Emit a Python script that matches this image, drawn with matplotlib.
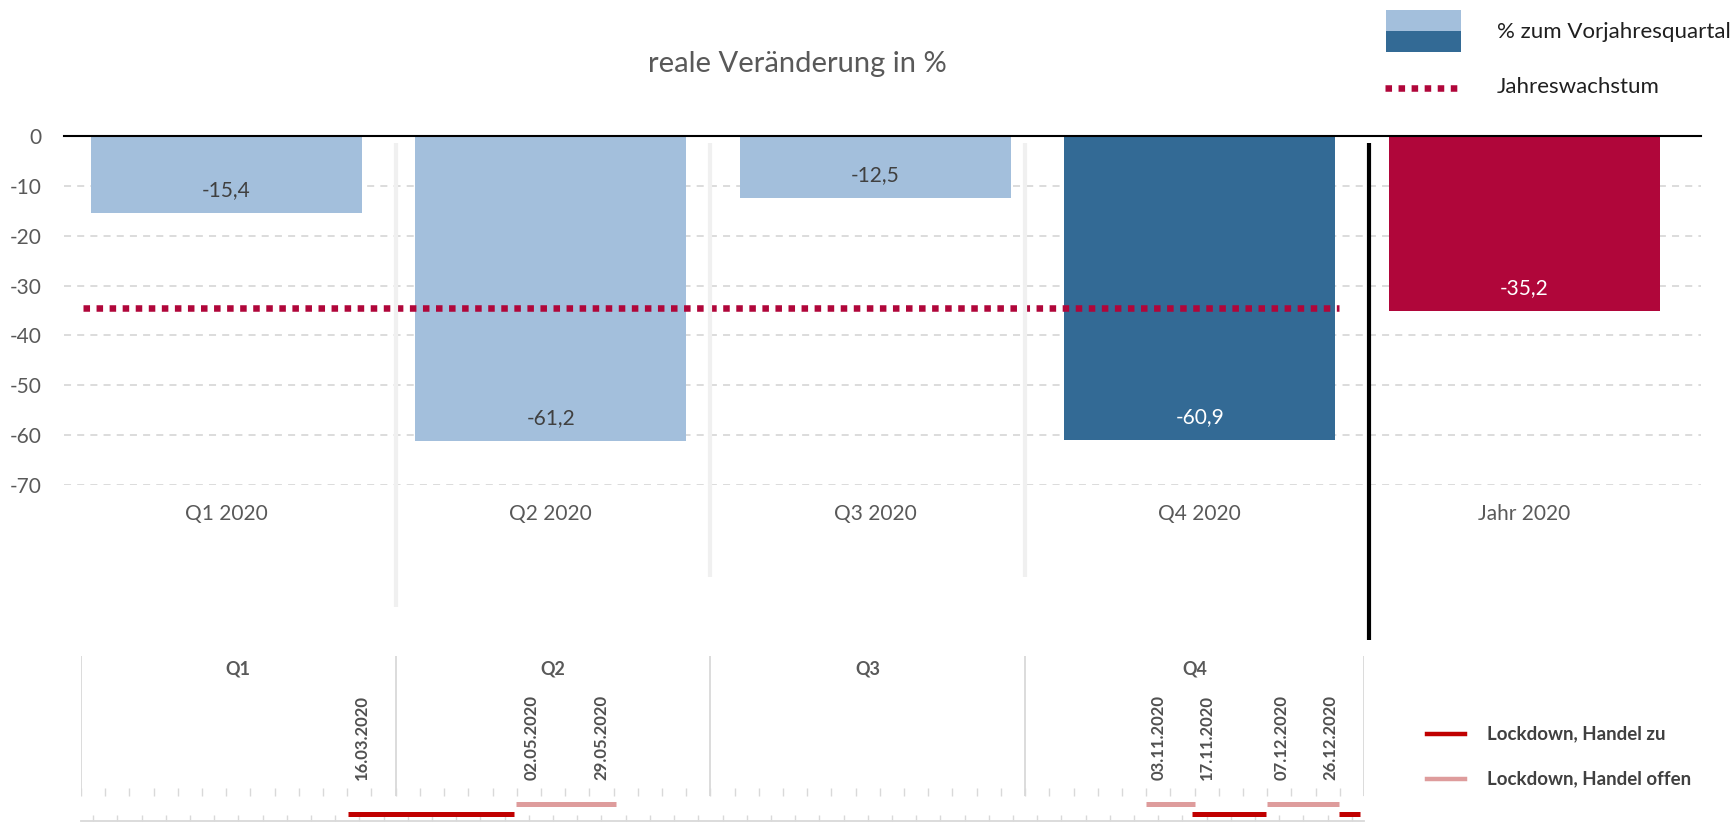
import matplotlib
matplotlib.use("Agg")
import matplotlib.pyplot as plt
from matplotlib.patches import Rectangle
import numpy as np

plt.rcParams['font.family'] = ['Lato', 'DejaVu Sans']

# Hauptdiagramm
kategorien = ["Q1 2020", "Q2 2020", "Q3 2020", "Q4 2020", "Jahr 2020"]
werte = [-15.4, -61.2, -12.5, -60.9, -35.2]
farben = ["#A3BFDC", "#A3BFDC", "#A3BFDC", "#336A95", "#B0063A"]
label_farben = ["#404040", "#404040", "#404040", "white", "white"]
jahreslinie = -34.5
y_ticks = [0, -10, -20, -30, -40, -50, -60, -70]

# Zeitleiste in Kalenderwochen
quartale = ["Q1", "Q2", "Q3", "Q4"]
quartal_grenzen = [0, 13, 26, 39, 53]
handel_zu = [(11.05, 17.9), (45.9, 48.95), (51.95, 52.85)]
handel_offen = [(17.95, 22.1), (44.0, 46.0), (49.0, 51.95)]
daten = ["16.03.2020", "02.05.2020", "29.05.2020", "03.11.2020",
         "17.11.2020", "07.12.2020", "26.12.2020"]
daten_pos = [11.6, 18.6, 21.5, 44.5, 46.5, 49.6, 51.6]

W, H = 1732, 823
GRAU = "#595959"
ROT = "#C00000"
ROSA = "#DE9C9C"
KARMIN = "#B0063A"

fig = plt.figure(figsize=(W / 100, H / 100), dpi=100)

# --- Balken ---
ax = fig.add_axes([64 / W, (H - 485) / H, (1701 - 64) / W, (485 - 136) / H])
x = np.arange(len(kategorien))
ax.bar(x, werte, width=0.835, color=farben, zorder=2)
ax.set_xlim(-0.5, 4.545)
ax.set_ylim(-70, 0)
for s in ax.spines.values():
    s.set_visible(False)
ax.set_yticks(y_ticks)
ax.set_yticklabels([str(v) for v in y_ticks])
ax.tick_params(axis='y', length=0, pad=16, labelsize=15, labelcolor=GRAU)
ax.set_xticks(x)
ax.set_xticklabels(kategorien)
ax.tick_params(axis='x', length=0, pad=14, labelsize=15, labelcolor=GRAU)
ax.grid(axis='y', color="#D9D9D9", lw=1.3, linestyle=(0, (3.9, 3.4)), zorder=0)
ax.axhline(0, color="black", lw=1.5, zorder=3, clip_on=False)

for xi, v, c in zip(x, werte, label_farben):
    ax.text(xi, v + 4.6, f"{v:.1f}".replace(".", ","), ha="center", va="center",
            fontsize=15, color=c, zorder=4)

ax.hlines(jahreslinie, -0.44, 3.43, color=KARMIN, lw=4.7, linestyle=(0, (1, 1)),
          zorder=3)

fig.text(797 / W, 1 - 64 / H, "reale Veränderung in %", ha="center", va="center",
         fontsize=21, color=GRAU)

# --- Zeitleiste ---
ax_t = fig.add_axes([81 / W, (H - 821) / H, 1283 / W, 165 / H])
ax_t.patch.set_visible(False)
ax_t.set_xlim(0, 53)
ax_t.set_ylim(0, 165)
for k in ["top", "left", "right"]:
    ax_t.spines[k].set_visible(False)
ax_t.spines["bottom"].set_color("#D9D9D9")
ax_t.spines["bottom"].set_linewidth(1.3)
ax_t.set_yticks([])
ax_t.set_xticks(np.arange(0.5, 53, 1))
ax_t.set_xticklabels([])
ax_t.tick_params(axis='x', direction='in', length=4.5, width=1, color="#D9D9D9")

ax_t.vlines(np.arange(0, 54), 25, 33, color="#D9D9D9", lw=1)
ax_t.vlines(quartal_grenzen, 25, 165, color="#D9D9D9", lw=1.3)

# Trennlinien im Hauptdiagramm
ax_t.vlines([13], 214, 678, color="#F0F0F0", lw=3, clip_on=False)
ax_t.vlines([26, 39], 244, 678, color="#F0F0F0", lw=3, clip_on=False)
ax_t.vlines([53.2], 181, 678, color="black", lw=3, clip_on=False)

for i, q in enumerate(quartale):
    mitte = (quartal_grenzen[i] + quartal_grenzen[i + 1]) / 2
    ax_t.text(mitte, 152, q, ha="center", va="center", fontsize=13,
              fontweight="bold", color=GRAU)

for d, p in zip(daten, daten_pos):
    ax_t.text(p, 41, d, rotation=90, ha="center", va="bottom", fontsize=12,
              fontweight="bold", color="#505050")

for a, b in handel_offen:
    ax_t.hlines(17, a, b, color=ROSA, lw=3.6)
for a, b in handel_zu:
    ax_t.hlines(7, a, b, color=ROT, lw=3.6)

# --- Legenden (Pixelkoordinaten) ---
ax_l = fig.add_axes([0, 0, 1, 1])
ax_l.patch.set_visible(False)
ax_l.set_xlim(0, W)
ax_l.set_ylim(H, 0)
ax_l.axis("off")

ax_l.add_patch(Rectangle((1386, 10), 75, 21, color="#A3BFDC", lw=0))
ax_l.add_patch(Rectangle((1386, 31), 75, 21, color="#336A95", lw=0))
ax_l.text(1497, 32, "% zum Vorjahresquartal", va="center", fontsize=16,
          color="#1F1F1F")
ax_l.plot([1385, 1458], [88, 88], color=KARMIN, lw=4.7, linestyle=(0, (1, 1)))
ax_l.text(1497, 87, "Jahreswachstum", va="center", fontsize=16, color="#1F1F1F")

ax_l.plot([1427, 1465], [734, 734], color=ROT, lw=3.2)
ax_l.text(1487, 734, "Lockdown, Handel zu", va="center", fontsize=13.5,
          fontweight="bold", color="#404040")
ax_l.plot([1427, 1465], [779, 779], color=ROSA, lw=3.2)
ax_l.text(1487, 779, "Lockdown, Handel offen", va="center", fontsize=13.5,
          fontweight="bold", color="#404040")

fig.savefig("out.png", dpi=100)
